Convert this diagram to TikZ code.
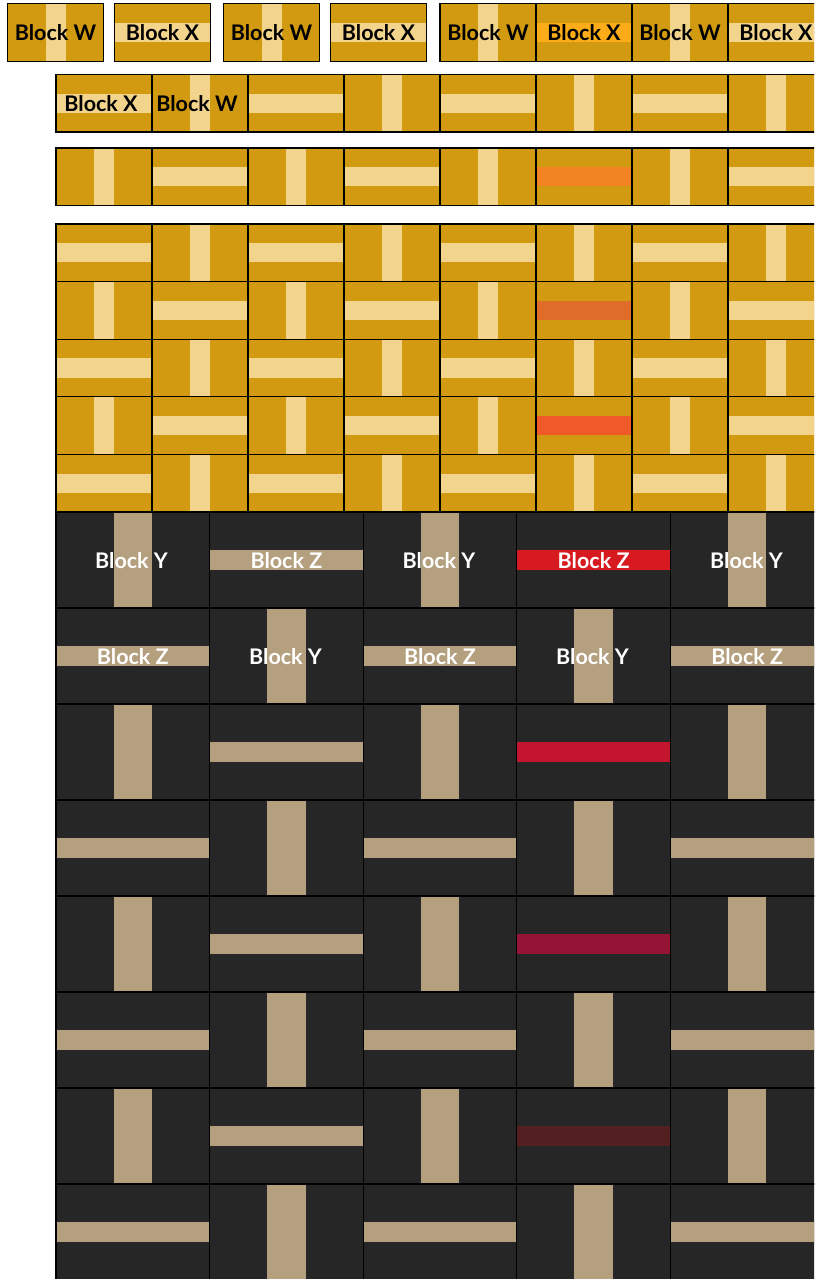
\documentclass[tikz,border=0pt]{standalone}
\usepackage{fontspec}
\setmainfont{Lato}
\definecolor{gold}{HTML}{D19A10}
\definecolor{light}{HTML}{F2D48C}
\definecolor{darkbg}{HTML}{262626}
\definecolor{tan}{HTML}{B49F7E}
\definecolor{orX}{HTML}{FBAC18}
\definecolor{or1}{HTML}{F28322}
\definecolor{or3}{HTML}{E06C2A}
\definecolor{or5}{HTML}{F05A28}
\definecolor{rd0}{HTML}{D71920}
\definecolor{rd2}{HTML}{C4152F}
\definecolor{rd4}{HTML}{951335}
\definecolor{rd6}{HTML}{541F21}
\begin{document}
\begin{tikzpicture}[x=1pt,y=-1pt,
  lbl/.style={font=\bfseries\fontsize{21.5}{24}\selectfont, inner sep=0pt},
  lblk/.style={lbl,text=black},
  lblw/.style={lbl,text=white},
  cellb/.style={draw=black,line width=1.1pt},
]
\useasboundingbox (0,0) rectangle (814,1279);
\clip (0,0) rectangle (814,1279);
% ---------- top row ----------
\foreach \x/\o/\col in {7.5/1/light,114.5/0/light,223.5/1/light,330.5/0/light,440/1/light,536/0/orX,632/1/light,728/0/light}{
  \fill[gold] (\x,3.5) rectangle ++(96,57.6);
  \ifnum\o=0 \fill[\col] (\x,22.7) rectangle ++(96,19.2);
  \else \fill[\col] (\x+38,3.5) rectangle ++(20,57.6);\fi
}
\foreach \x in {7.5,114.5,223.5,330.5,440,536,632,728}{
  \draw[cellb] (\x,3.5) rectangle ++(96,57.6);
}
\node[lblk] (t1) at (55.5,32.6) {Block W};
\node[lblk] (t2) at (162.5,32.6) {Block X};
\node[lblk] (t3) at (271.5,32.6) {Block W};
\node[lblk] (t4) at (378.5,32.6) {Block X};
\node[lblk] (t5) at (488,32.6) {Block W};
\node[lblk] (t6) at (584,32.6) {Block X};
\node[lblk] (t7) at (680,32.6) {Block W};
\node[lblk] (t8) at (776,32.6) {Block X};
% ---------- gold grid ----------
\foreach \r/\y in {0/74.4,1/148,2/224,3/281.6,4/339.2,5/396.8,6/454.4}{
  \foreach \c in {0,...,7}{
    \pgfmathtruncatemacro\o{mod(\r+\c,2)}
    \pgfmathsetmacro\x{56+96*\c}
    \fill[gold] (\x,\y) rectangle ++(96,57.6);
    \ifnum\o=0 \fill[light] (\x,\y+19.2) rectangle ++(96,19.2);
    \else \fill[light] (\x+38,\y) rectangle ++(20,57.6);\fi
  }
}
\fill[or1] (536,167.2) rectangle ++(96,19.2);
\fill[or3] (536,300.8) rectangle ++(96,19.2);
\fill[or5] (536,416) rectangle ++(96,19.2);
\foreach \y in {74.4,148,224,281.6,339.2,396.8,454.4}{
  \foreach \c in {0,...,7}{
    \pgfmathsetmacro\x{56+96*\c}
    \draw[cellb] (\x,\y) rectangle ++(96,57.6);
  }
}
\node[lblk] (g1) at (101,103.8) {Block X};
\node[lblk] (g2) at (197,103.8) {Block W};
% ---------- dark grid ----------
\foreach \s in {0,...,7}{
  \foreach \d in {0,...,4}{
    \pgfmathtruncatemacro\o{mod(\s+\d,2)}
    \pgfmathsetmacro\x{56+153.6*\d}
    \pgfmathsetmacro\y{512+96*\s}
    \fill[darkbg] (\x,\y) rectangle ++(153.6,96);
    \ifnum\o=1 \fill[tan] (\x,\y+38.4) rectangle ++(153.6,19.2);
    \else \fill[tan] (\x+57.6,\y) rectangle ++(38.4,96);\fi
  }
}
\fill[rd0] (516.8,550.4) rectangle ++(153.6,19.2);
\fill[rd2] (516.8,742.4) rectangle ++(153.6,19.2);
\fill[rd4] (516.8,934.4) rectangle ++(153.6,19.2);
\fill[rd6] (516.8,1126.4) rectangle ++(153.6,19.2);
\foreach \s in {0,...,7}{
  \foreach \d in {0,...,4}{
    \pgfmathsetmacro\x{56+153.6*\d}
    \pgfmathsetmacro\y{512+96*\s}
    \draw[cellb] (\x,\y) rectangle ++(153.6,96);
  }
}
\node[lblw] (d1) at (131.5,561) {Block Y};
\node[lblw] (d2) at (286.4,560.5) {Block Z};
\node[lblw] (d3) at (439,561) {Block Y};
\node[lblw] (d4) at (593.6,560.5) {Block Z};
\node[lblw] (d5) at (746.5,561) {Block Y};
\node[lblw] (e1) at (132.8,657) {Block Z};
\node[lblw] (e2) at (285.5,657) {Block Y};
\node[lblw] (e3) at (440,657) {Block Z};
\node[lblw] (e4) at (592.5,657) {Block Y};
\node[lblw] (e5) at (747.2,657) {Block Z};
\end{tikzpicture}
\end{document}
